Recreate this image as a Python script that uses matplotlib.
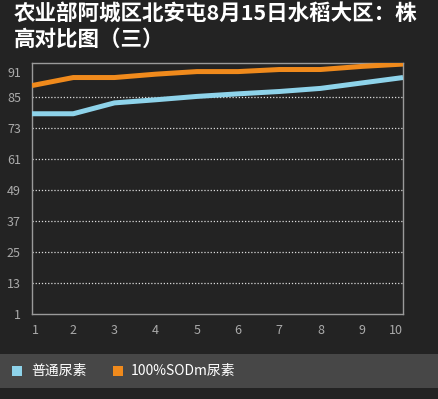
import matplotlib
matplotlib.use("Agg")
import matplotlib.pyplot as plt
from matplotlib.patches import Rectangle

plt.rcParams['font.family'] = ['Noto Sans CJK SC', 'DejaVu Sans']

# data
days = [1, 2, 3, 4, 5, 6, 7, 8, 9, 10]
putong = [78.4, 78.4, 82.6, 83.8, 85.1, 86.1, 87.0, 88.2, 90.3, 92.4]
sodm = [89.3, 92.4, 92.4, 93.7, 94.7, 94.7, 95.5, 95.5, 96.7, 97.6]
series_names = ['普通尿素', '100%SODm尿素']
ytick_vals = [1, 13, 25, 37, 49, 61, 73, 85]
title = '农业部阿城区北安屯8月15日水稻大区：株\n高对比图（三）'

bg = '#232323'
blue = '#8ed3ea'
orange = '#f08a1c'

fig = plt.figure(figsize=(4.39, 3.99), dpi=100, facecolor=bg)
ax = fig.add_axes([0.073, 0.213, 0.845, 0.629], facecolor=bg)

for y in ytick_vals[1:]:
    ax.axhline(y, color='#dddddd', lw=0.9, ls=(0, (1, 1.5)), zorder=1)

ax.plot(days, putong, color=blue, lw=3.6, zorder=3, solid_capstyle='butt')
ax.plot(days, sodm, color=orange, lw=3.6, zorder=3, solid_capstyle='butt')

ax.set_xlim(1, 10)
ax.set_ylim(1, 98)
ax.set_xticks(days)
ax.set_xticklabels([str(d) for d in days])
# the top label "91" sits a bit above its value in the original
ax.set_yticks(ytick_vals + [94.7])
ax.set_yticklabels([str(v) for v in ytick_vals] + ['91'])
ax.tick_params(length=0, colors='#aaaaaa', labelsize=9)
ax.tick_params(axis='y', pad=8)
ax.tick_params(axis='x', pad=7)
xl = ax.get_xticklabels()
xl[0].set_horizontalalignment('left')
xl[-1].set_horizontalalignment('right')
for s in ax.spines.values():
    s.set_color('#9a9a9a')
    s.set_linewidth(1.0)

fig.text(0.032, 0.993, title, color='white', fontsize=15.5, fontweight='bold',
         va='top', ha='left', linespacing=1.3)

# legend band
fig.patches.append(Rectangle((0, 0.028), 1, 0.085, transform=fig.transFigure,
                             facecolor='#474747', edgecolor='none'))
fig.patches.append(Rectangle((12 / 439, 0.057), 10 / 439, 10 / 399,
                             transform=fig.transFigure, facecolor=blue, edgecolor='none'))
fig.text(31 / 439, 0.070, series_names[0], color='white', fontsize=10, va='center')
fig.patches.append(Rectangle((113 / 439, 0.057), 10 / 439, 10 / 399,
                             transform=fig.transFigure, facecolor=orange, edgecolor='none'))
fig.text(131 / 439, 0.070, series_names[1], color='white', fontsize=10, va='center')

fig.savefig('out.png', dpi=100, facecolor=bg)
